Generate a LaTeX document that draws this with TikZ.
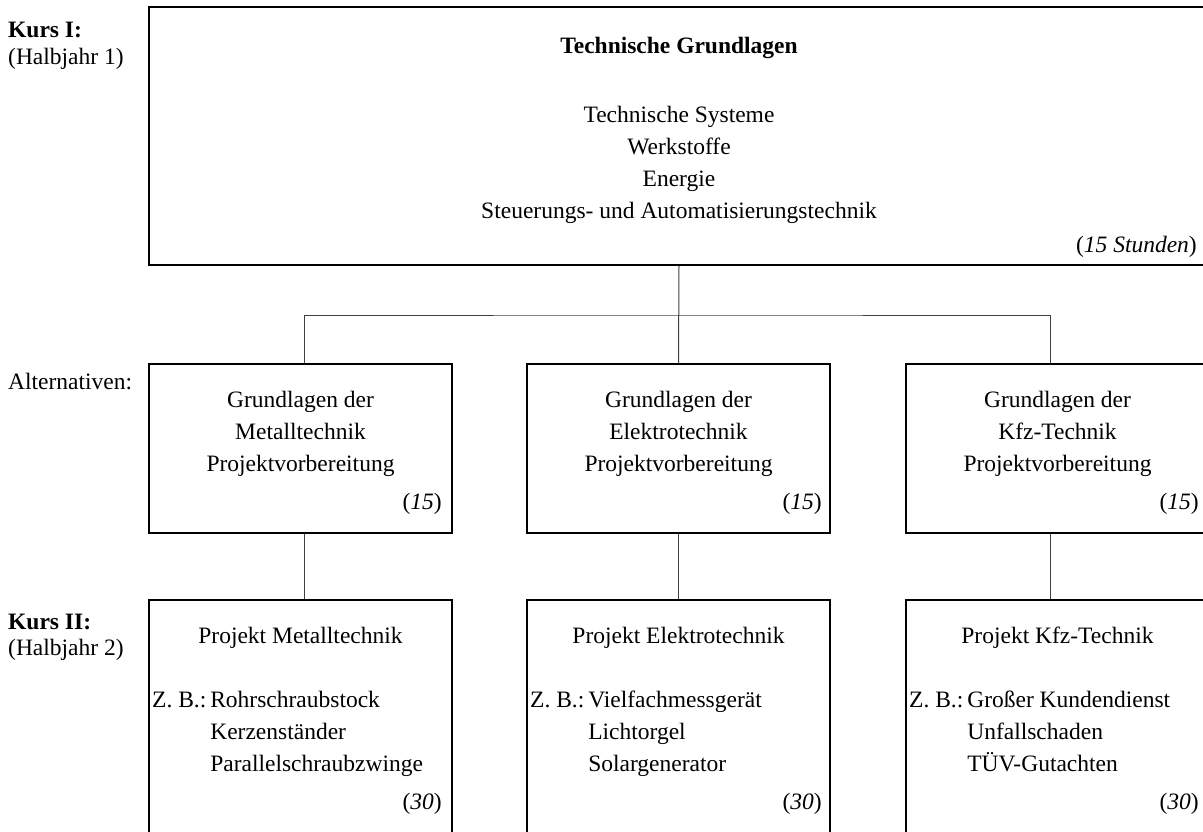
\documentclass[tikz,border=0pt]{standalone}
\usepackage{fontspec}
\setmainfont{Liberation Serif}
\usetikzlibrary{positioning,calc}

\begin{document}
\begin{tikzpicture}[
  x=1pt, y=-1pt,
  box/.style={rectangle, draw, line width=1.6pt, inner sep=0pt},
  link/.style={line width=1pt, draw=black!75},
  txt/.style={inner sep=0pt, font=\fontsize{23.5}{32}\selectfont, align=center},
  side/.style={txt, anchor=west, align=left},
]
\clip (0,0) rectangle (1203,832);

% === KURS I ===
\node[box, minimum width=1060pt, minimum height=258pt] (grund) at (679,136) {};
\node[txt, font=\fontsize{23.5}{32}\selectfont\bfseries] (grundtitel) at (679,48) {Technische Grundlagen};
\node[txt] (grundinhalt) at (679,165) {Technische Systeme\\Werkstoffe\\Energie\\Steuerungs- und Automatisierungstechnik};
\node[txt, anchor=east] (grundstd) at (1197,247) {(\textit{15 Stunden})};

% === ALTERNATIVEN ===
\node[box, minimum width=303pt, minimum height=169pt] (alt1) at (300.5,448.5) {};
\node[box, minimum width=303pt, minimum height=169pt] (alt2) at (678.5,448.5) {};
\node[box, minimum width=303pt, minimum height=169pt] (alt3) at (1057.5,448.5) {};
\node[txt] (alt1txt) at (300.5,434) {Grundlagen der\\Metalltechnik\\Projektvorbereitung};
\node[txt] (alt2txt) at (678.5,434) {Grundlagen der\\Elektrotechnik\\Projektvorbereitung};
\node[txt] (alt3txt) at (1057.5,434) {Grundlagen der\\Kfz-Technik\\Projektvorbereitung};
\node[txt, anchor=east] (alt1std) at (442,504) {(\textit{15})};
\node[txt, anchor=east] (alt2std) at (822,504) {(\textit{15})};
\node[txt, anchor=east] (alt3std) at (1199,504) {(\textit{15})};

% === KURS II ===
\node[box, minimum width=303pt, minimum height=300pt] (proj1) at (300.5,750) {};
\node[box, minimum width=303pt, minimum height=300pt] (proj2) at (678.5,750) {};
\node[box, minimum width=303pt, minimum height=300pt] (proj3) at (1057.5,750) {};
\node[txt] (proj1titel) at (300.5,638) {Projekt Metalltechnik};
\node[txt] (proj2titel) at (678.5,638) {Projekt Elektrotechnik};
\node[txt] (proj3titel) at (1057.5,638) {Projekt Kfz-Technik};
\node[txt, anchor=west, align=left] (proj1bsp) at (152,733)
  {\begin{tabular}{@{}l@{\,}l@{}}Z. B.:&Rohrschraubstock\\&Kerzenständer\\&Parallelschraubzwinge\end{tabular}};
\node[txt, anchor=west, align=left] (proj2bsp) at (530,733)
  {\begin{tabular}{@{}l@{\,}l@{}}Z. B.:&Vielfachmessgerät\\&Lichtorgel\\&Solargenerator\end{tabular}};
\node[txt, anchor=west, align=left] (proj3bsp) at (909,733)
  {\begin{tabular}{@{}l@{\,}l@{}}Z. B.:&Großer Kundendienst\\&Unfallschaden\\&TÜV-Gutachten\end{tabular}};
\node[txt, anchor=east] (proj1std) at (442,804) {(\textit{30})};
\node[txt, anchor=east] (proj2std) at (822,804) {(\textit{30})};
\node[txt, anchor=east] (proj3std) at (1199,804) {(\textit{30})};

% === LINKS ===
\node[side, font=\fontsize{23.5}{32}\selectfont\bfseries] (kurs1) at (8,30) {Kurs I:};
\node[side] (halb1) at (8,59) {(Halbjahr 1)};
\node[side] (altlabel) at (8,382) {Alternativen:};
\node[side, font=\fontsize{23.5}{32}\selectfont\bfseries] (kurs2) at (8,622) {Kurs II:};
\node[side] (halb2) at (8,650) {(Halbjahr 2)};

% === VERBINDUNGEN ===
\coordinate (bus) at (679,315);
\draw[link] (grund.south) -- (alt2.north);
\draw[link] ([xshift=3.5pt]alt1.north) |- (bus) -| ([xshift=-7.5pt]alt3.north);
\draw[link] ([xshift=3.5pt]alt1.south) -- ([xshift=3.5pt]proj1.north);
\draw[link] (alt2.south) -- (proj2.north);
\draw[link] ([xshift=-7.5pt]alt3.south) -- ([xshift=-7.5pt]proj3.north);
\end{tikzpicture}
\end{document}
